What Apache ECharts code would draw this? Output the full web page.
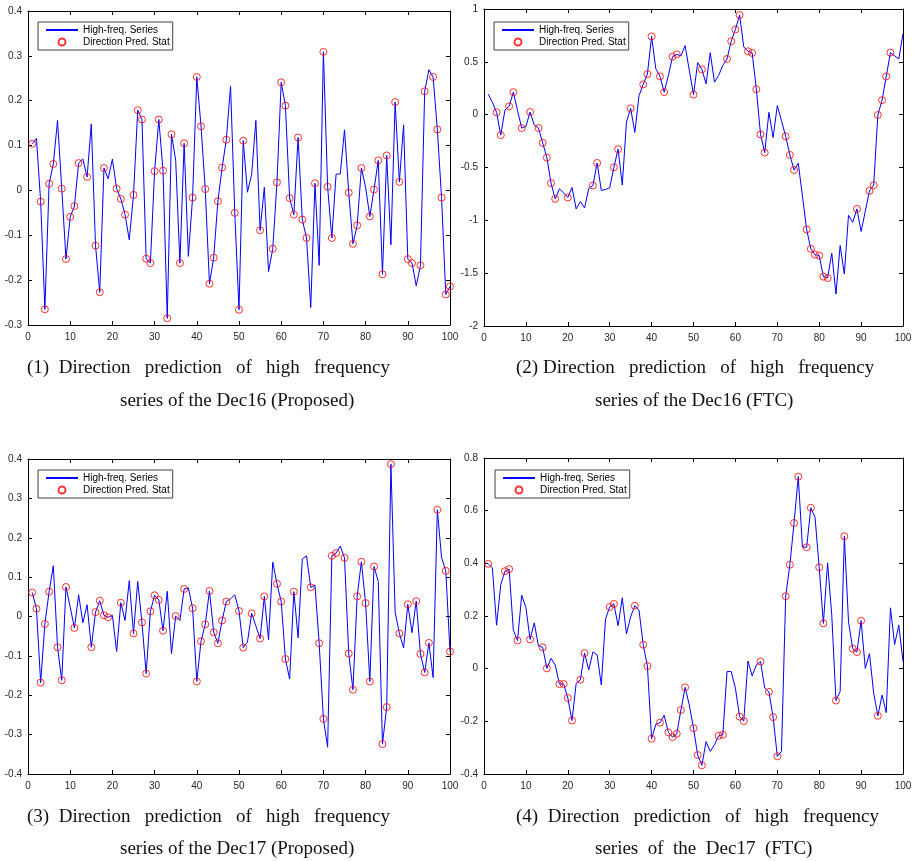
<!DOCTYPE html>
<html>
<head>
<meta charset="utf-8">
<script src="https://cdn.jsdelivr.net/npm/echarts@6/dist/echarts.min.js"></script>
<style>
  html, body { margin: 0; background: #fff; }
  #chart { width: 916px; height: 861px; }
</style>
</head>
<body>
<div id="chart"></div>
<script>
// x positions run 1..100 in every panel
const steps = Array.from({ length: 100 }, (_, i) => i + 1);

// (1) Dec16, proposed
const dec16Prop = [0.104,0.116,-0.025,-0.265,0.015,0.059,0.156,0.004,-0.153,-0.059,
  -0.035,0.061,0.070,0.030,0.148,-0.123,-0.227,0.050,0.026,0.070,
  0.004,-0.019,-0.054,-0.110,-0.010,0.179,0.158,-0.152,-0.162,0.043,
  0.158,0.044,-0.285,0.125,0.067,-0.162,0.105,-0.147,-0.016,0.253,
  0.143,0.003,-0.208,-0.150,-0.024,0.051,0.113,0.233,-0.050,-0.266,
  0.111,-0.004,0.036,0.156,-0.089,0.007,-0.181,-0.130,0.018,0.241,
  0.189,-0.017,-0.054,0.118,-0.065,-0.106,-0.261,0.016,-0.167,0.309,
  0.008,-0.106,0.036,0.037,0.135,-0.005,-0.119,-0.078,0.050,0.007,
  -0.058,0.002,0.067,-0.187,0.078,-0.121,0.197,0.019,0.146,-0.153,
  -0.162,-0.213,-0.167,0.221,0.269,0.253,0.136,-0.016,-0.232,-0.214];
const dec16PropMarks = [1,3,4,5,6,8,9,10,11,12,14,16,17,18,21,22,23,25,26,27,28,29,30,31,32,33,34,36,37,39,40,
  41,42,43,44,45,46,47,49,50,51,55,58,59,60,61,62,63,64,65,66,68,70,71,72,76,77,78,79,81,82,83,84,85,
  87,88,90,91,93,94,96,97,98,99,100];

// (2) Dec16, FTC
const dec16Ftc = [0.194,0.117,0.022,-0.194,0.044,0.079,0.213,0.040,-0.127,-0.111,
  0.025,-0.098,-0.127,-0.267,-0.406,-0.648,-0.797,-0.702,-0.740,-0.784,
  -0.689,-0.892,-0.822,-0.883,-0.698,-0.670,-0.457,-0.717,-0.708,-0.692,
  -0.498,-0.327,-0.665,-0.070,0.060,-0.168,0.181,0.286,0.384,0.740,
  0.435,0.362,0.213,0.371,0.549,0.571,0.556,0.654,0.419,0.190,
  0.492,0.429,0.292,0.587,0.308,0.371,0.467,0.527,0.695,0.806,
  0.943,0.641,0.600,0.584,0.241,-0.187,-0.359,0.022,-0.216,0.086,
  -0.057,-0.206,-0.381,-0.524,-0.460,-0.771,-1.086,-1.270,-1.324,-1.333,
  -1.533,-1.546,-1.311,-1.698,-1.238,-1.508,-0.952,-1.019,-0.892,-1.105,
  -0.914,-0.721,-0.667,-0.003,0.137,0.362,0.587,0.556,0.527,0.768];
const dec16FtcMarks = [3,4,6,7,9,11,13,14,15,16,17,20,26,27,31,32,35,38,39,40,42,43,45,46,50,52,58,59,60,61,
  63,64,65,66,67,72,73,74,77,78,79,80,81,82,89,92,93,94,95,96,97];

// (3) Dec17, proposed
const dec17Prop = [0.061,0.020,-0.168,-0.019,0.063,0.129,-0.078,-0.162,0.075,0.024,
  -0.029,0.055,-0.016,0.030,-0.078,0.011,0.040,0.003,-0.002,0.003,
  -0.089,0.035,-0.010,0.091,-0.043,0.089,-0.015,-0.145,0.013,0.054,
  0.042,-0.036,0.064,-0.094,0.001,-0.010,0.070,0.073,0.021,-0.165,
  -0.063,-0.020,0.065,-0.040,-0.068,-0.010,0.038,0.045,0.055,0.014,
  -0.079,-0.065,0.008,-0.024,-0.056,0.051,-0.059,0.138,0.083,0.038,
  -0.108,-0.159,0.063,-0.054,0.146,0.154,0.074,0.080,-0.068,-0.260,
  -0.332,0.154,0.161,0.179,0.149,-0.094,-0.186,0.051,0.139,0.034,
  -0.165,0.127,0.089,-0.324,-0.230,0.387,0.011,-0.043,-0.080,0.031,
  -0.041,0.039,-0.095,-0.142,-0.067,-0.155,0.271,0.150,0.116,-0.089];
const dec17PropMarks = [1,2,3,4,5,7,8,9,11,15,16,17,18,19,22,25,27,28,29,30,31,32,35,37,39,40,41,42,43,44,
  45,46,47,50,51,53,55,56,59,60,61,63,67,69,70,72,73,75,76,77,78,79,80,81,82,84,85,86,88,90,92,93,
  94,95,97,99,100];

// (4) Dec17, FTC
const dec17Ftc = [0.398,0.383,0.165,0.319,0.370,0.378,0.146,0.107,0.279,0.232,
  0.111,0.174,0.086,0.081,0.001,0.039,0.014,-0.058,-0.058,-0.111,
  -0.197,-0.056,-0.042,0.059,-0.005,0.064,0.052,-0.062,0.188,0.234,
  0.246,0.163,0.269,0.132,0.197,0.239,0.222,0.091,0.010,-0.266,
  -0.211,-0.205,-0.177,-0.242,-0.260,-0.247,-0.157,-0.071,-0.138,-0.226,
  -0.328,-0.367,-0.277,-0.314,-0.289,-0.255,-0.251,-0.011,-0.011,-0.074,
  -0.182,-0.199,0.029,-0.027,0.014,0.027,-0.074,-0.088,-0.184,-0.333,
  -0.314,0.275,0.395,0.553,0.729,0.462,0.461,0.611,0.576,0.385,
  0.172,0.402,0.203,-0.121,-0.087,0.503,0.178,0.076,0.063,0.182,
  0.001,0.057,-0.093,-0.179,-0.100,-0.167,0.231,0.092,0.165,0.027];
const dec17FtcMarks = [1,5,6,8,11,14,15,18,19,20,21,23,24,30,31,36,38,39,40,42,44,45,46,47,48,50,51,52,
  56,57,61,62,66,68,69,70,72,73,74,75,77,78,80,81,84,86,88,89,90,94];

// y axis ranges [min, max, interval]
const yRange1 = [-0.3, 0.4, 0.1];
const yRange2 = [-2, 1, 0.5];
const yRange3 = [-0.4, 0.4, 0.1];
const yRange4 = [-0.4, 0.8, 0.2];

// the first caption line is justified in the source, hence the wide gaps
const captions = [
  ['(1)  Direction   prediction   of   high   frequency', 'series of the Dec16 (Proposed)'],
  ['(2) Direction   prediction   of   high   frequency', 'series of the Dec16 (FTC)'],
  ['(3)  Direction   prediction   of   high   frequency', 'series of the Dec17 (Proposed)'],
  ['(4)  Direction   prediction   of   high   frequency', 'series  of  the  Dec17  (FTC)']
];

const LINE_NAME = 'High-freq. Series';
const MARK_NAME = 'Direction Pred. Stat';

// layout of the four panels
const panels = [
  { vals: dec16Prop, marks: dec16PropMarks, y: yRange1, grid: { left: 28, top: 11, width: 422, height: 314 }, legend: [38, 22], cap: [[27, 368], [120, 401]] },
  { vals: dec16Ftc, marks: dec16FtcMarks, y: yRange2, grid: { left: 484, top: 9, width: 419, height: 317 }, legend: [494, 22], cap: [[516, 368], [595, 401]] },
  { vals: dec17Prop, marks: dec17PropMarks, y: yRange3, grid: { left: 28, top: 459, width: 422, height: 315 }, legend: [38, 470], cap: [[27, 817], [120, 849]] },
  { vals: dec17Ftc, marks: dec17FtcMarks, y: yRange4, grid: { left: 484, top: 458, width: 419, height: 316 }, legend: [495, 470], cap: [[516, 817], [595, 849]] }
];

const tickFont = { fontFamily: 'Liberation Sans', fontSize: 10, color: '#262626' };
const fmt = v => String(Math.round(v * 100) / 100);

const grid = [], xAxis = [], yAxis = [], series = [], legend = [], graphic = [];

panels.forEach((p, i) => {
  grid.push(Object.assign({ containLabel: false }, p.grid));
  const axisLine = { show: true, onZero: false, lineStyle: { color: '#000', width: 1 } };
  const axisTick = { show: true, inside: true, length: 4, lineStyle: { color: '#000' } };
  ['bottom', 'top'].forEach((pos, k) => {
    xAxis.push({
      type: 'value', gridIndex: i, position: pos, min: 0, max: 100, interval: 10,
      axisLine, axisTick, splitLine: { show: false },
      axisLabel: Object.assign({ show: k === 0, margin: 7, formatter: fmt }, tickFont)
    });
  });
  ['left', 'right'].forEach((pos, k) => {
    yAxis.push({
      type: 'value', gridIndex: i, position: pos, min: p.y[0], max: p.y[1], interval: p.y[2],
      axisLine, axisTick, splitLine: { show: false },
      axisLabel: Object.assign({ show: k === 0, margin: 6, formatter: fmt }, tickFont)
    });
  });

  series.push({
    name: LINE_NAME, type: 'line', xAxisIndex: 2 * i, yAxisIndex: 2 * i,
    data: steps.map((t, k) => [t, p.vals[k]]),
    symbol: 'none', lineStyle: { color: '#0000ff', width: 1 }, itemStyle: { color: '#0000ff' },
    z: 2
  });
  series.push({
    name: MARK_NAME, type: 'scatter', xAxisIndex: 2 * i, yAxisIndex: 2 * i,
    data: p.marks.map(t => [t, p.vals[t - 1]]),
    symbol: 'circle', symbolSize: 7,
    itemStyle: { color: 'rgba(255,255,255,0)', borderColor: '#ff0000', borderWidth: 1 },
    z: 3
  });

  legend.push({
    left: p.legend[0], top: p.legend[1], orient: 'vertical',
    data: [
      { name: LINE_NAME, itemStyle: { opacity: 0 } },
      { name: MARK_NAME }
    ],
    selectedMode: false,
    itemWidth: 32, itemHeight: 7, itemGap: 2,
    padding: [3, 3, 3, 7],
    borderColor: '#404040', borderWidth: 1, backgroundColor: '#fff',
    textStyle: { fontFamily: 'Liberation Sans', fontSize: 10, color: '#000' }
  });

  captions[i].forEach((txt, k) => {
    graphic.push({
      type: 'text', left: p.cap[k][0], top: p.cap[k][1] - 9,
      style: { text: txt, font: '19px "Liberation Serif"', fill: '#111' }
    });
  });
});

const chart = echarts.init(document.getElementById('chart'));
chart.setOption({
  animation: false,
  backgroundColor: '#fff',
  grid, xAxis, yAxis, series, legend, graphic
});
</script>
</body>
</html>
